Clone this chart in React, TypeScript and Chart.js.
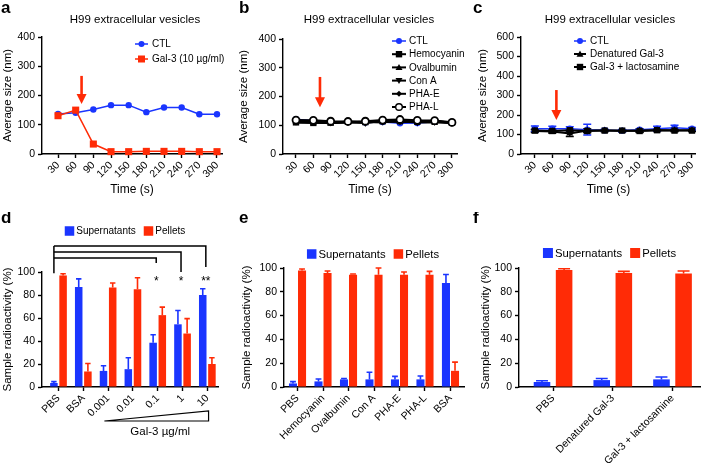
import React, { useEffect, useRef } from 'react';
import { Chart, registerables } from 'chart.js';

Chart.register(...registerables);

const FONT = '"Liberation Sans", Arial, Helvetica, sans-serif';
const BLUE = '#1a35ff';
const RED = '#ff2b06';
const BLACK = '#000000';

// ---------------- Data: vesicle size time courses (a–c)
const timePoints = [30, 60, 90, 120, 150, 180, 210, 240, 270, 300];
const sizeTicks400 = [0, 100, 200, 300, 400];
const sizeTicks600 = [0, 100, 200, 300, 400, 500, 600];

const aCTL = [137, 141, 152, 167, 167, 143, 159, 159, 136, 136];
const aGal3 = [131, 150, 34, 8, 8, 9, 9, 9, 8, 8];

const bCTL = [121, 116, 113, 112, 110, 111, 107, 108, 112, 109];
const bHemocyanin = [110, 108, 109, 112, 111, 114, 114, 112, 112, 109];
const bOvalbumin = [112, 110, 107, 112, 110, 113, 112, 112, 114, 108];
const bConA = [115, 112, 110, 112, 108, 116, 113, 110, 111, 108];
const bPHAE = [110, 112, 108, 110, 112, 110, 116, 112, 113, 110];
const bPHAL = [118, 117, 114, 113, 114, 118, 120, 117, 116, 110];

const cCTL = [130, 130, 130, 125, 122, 120, 125, 130, 135, 130];
const cCTLErr = [14, 12, 10, 28, 5, 6, 5, 12, 12, 6];
const cDenatured = [118, 115, 105, 120, 120, 118, 120, 122, 122, 122];
const cDenaturedErr = [8, 8, 15, 10, 5, 5, 8, 6, 6, 5];
const cLactosamine = [120, 118, 122, 118, 120, 120, 118, 122, 120, 120];
const cLactosamineErr = [6, 6, 8, 8, 5, 5, 8, 5, 5, 5];

// Gal-3 / lectin addition time (red arrows), seconds
const additionTime = { a: 70, b: 71.5, c: 67 };

// ---------------- Data: radioactivity (d–f)
const pctTicks = [0, 20, 40, 60, 80, 100];

const dCategories = ['PBS', 'BSA', '0.001', '0.01', '0.1', '1', '10'];
const dSupernatants = [3.5, 87, 14, 15.5, 38.5, 54.5, 80];
const dSupernatantsErr = [1.2, 7, 4.5, 10, 7, 12, 5.5];
const dPellets = [97, 13.5, 86.5, 85, 62.5, 46.5, 20];
const dPelletsErr = [1.5, 7, 4, 10, 7, 13, 5.5];
const dComparisons = [
  { from: 0, to: 4, label: '*' },
  { from: 0, to: 5, label: '*' },
  { from: 0, to: 6, label: '**' },
];

const eCategories = ['PBS', 'Hemocyanin', 'Ovalbumin', 'Con A', 'PHA-E', 'PHA-L', 'BSA'];
const eSupernatants = [3, 4.7, 6.4, 6.4, 6.4, 6.4, 87.5];
const eSupernatantsErr = [1.5, 2, 0.8, 6, 2.5, 2.8, 7];
const ePellets = [97.8, 95.8, 94.4, 94.4, 94.4, 94.4, 13.6];
const ePelletsErr = [1.3, 1.7, 0.6, 5.6, 2.3, 2.8, 7.3];

const fCategories = ['PBS', 'Denatured Gal-3', 'Gal-3 + lactosamine'];
const fSupernatants = [4.2, 5.8, 6.4];
const fSupernatantsErr = [1.1, 1.4, 2];
const fPellets = [98.3, 95.8, 95.3];
const fPelletsErr = [1.1, 1.4, 2.2];

// ---------------- Layout (canvas coords per panel)
type Geo = { left: number; top: number; w: number; h: number; l: number; r: number; t: number; b: number };
const GEO: Record<string, Geo> = {
  a: { left: 0, top: 0, w: 234, h: 212, l: 42, r: 222, t: 37, b: 154 },
  b: { left: 234, top: 0, w: 234, h: 212, l: 49, r: 223, t: 39, b: 154 },
  c: { left: 468, top: 0, w: 234, h: 212, l: 53, r: 230, t: 37, b: 154 },
  d: { left: 0, top: 212, w: 234, h: 257, l: 42, r: 218, t: 60, b: 175 },
  e: { left: 234, top: 212, w: 234, h: 257, l: 50, r: 230, t: 56, b: 175 },
  f: { left: 468, top: 212, w: 234, h: 257, l: 51, r: 232, t: 56, b: 175 },
};
const XRANGE: Record<string, [number, number]> = {
  a: [2.8, 308.5],
  b: [7.5, 308.7],
  c: [6.2, 306.8],
  d: [-0.665, 6.43],
  e: [-0.53, 6.53],
  f: [-0.57, 2.46],
};

const TICK_SIZE = 10.5;
const AXIS_TITLE_SIZE = 11.5;

function fnt(size: number, weight: any = 'normal') {
  return { family: FONT, size, weight };
}

function makeScales(g: Geo, o: any) {
  return {
    x: {
      type: 'linear',
      min: o.xMin,
      max: o.xMax,
      offset: false,
      afterBuildTicks: (s: any) => {
        s.ticks = o.xTicks.map((v: number) => ({ value: v }));
      },
      afterFit: (s: any) => {
        s.height = g.h - g.b;
      },
      border: { display: true, color: BLACK, width: 1.4 },
      grid: { display: true, offset: false, drawOnChartArea: false, drawTicks: true, tickLength: 4, color: BLACK, tickWidth: 1.4 },
      ticks: {
        autoSkip: false,
        minRotation: 45,
        maxRotation: 45,
        padding: 1,
        color: BLACK,
        font: fnt(TICK_SIZE),
        callback: o.xLabel,
      },
      title: o.xTitle
        ? { display: true, text: o.xTitle, color: BLACK, font: fnt(AXIS_TITLE_SIZE + 0.5), padding: { top: 0, bottom: o.xTitlePad } }
        : { display: false },
    },
    y: {
      type: 'linear',
      min: 0,
      max: o.yMax,
      afterBuildTicks: (s: any) => {
        s.ticks = o.yTicks.map((v: number) => ({ value: v }));
      },
      afterFit: (s: any) => {
        s.width = g.l;
      },
      border: { display: true, color: BLACK, width: 1.4 },
      grid: { display: true, drawOnChartArea: false, drawTicks: true, tickLength: 4, color: BLACK, tickWidth: 1.4 },
      ticks: { padding: 3, color: BLACK, font: fnt(TICK_SIZE) },
      title: {
        display: true,
        text: o.yTitle,
        color: BLACK,
        font: fnt(AXIS_TITLE_SIZE),
        padding: { top: o.yTitlePad, bottom: 0 },
      },
    },
  };
}

function baseOptions(g: Geo, scales: any) {
  return {
    animation: false,
    responsive: false,
    maintainAspectRatio: false,
    devicePixelRatio: 1,
    events: [],
    layout: { padding: { left: 0, top: g.t, right: g.w - g.r, bottom: 0 } },
    plugins: { legend: { display: false }, title: { display: false }, tooltip: { enabled: false } },
    elements: { line: { tension: 0 } },
    scales,
  };
}

// ---------------- Drawing helpers
function drawMarker(ctx: CanvasRenderingContext2D, style: string, x: number, y: number, r: number, fill: string, stroke?: string) {
  ctx.beginPath();
  if (style === 'circle') ctx.arc(x, y, r, 0, Math.PI * 2);
  else if (style === 'rect') ctx.rect(x - r, y - r, 2 * r, 2 * r);
  else if (style === 'triangle') {
    ctx.moveTo(x, y - r);
    ctx.lineTo(x + r, y + r * 0.75);
    ctx.lineTo(x - r, y + r * 0.75);
    ctx.closePath();
  } else if (style === 'triangleDown') {
    ctx.moveTo(x, y + r);
    ctx.lineTo(x + r, y - r * 0.75);
    ctx.lineTo(x - r, y - r * 0.75);
    ctx.closePath();
  } else if (style === 'diamond') {
    ctx.moveTo(x, y - r);
    ctx.lineTo(x + r, y);
    ctx.lineTo(x, y + r);
    ctx.lineTo(x - r, y);
    ctx.closePath();
  }
  ctx.fillStyle = fill;
  ctx.fill();
  if (stroke) {
    ctx.strokeStyle = stroke;
    ctx.lineWidth = 1.4;
    ctx.stroke();
  }
}

function drawLetter(ctx: CanvasRenderingContext2D, letter: string, x: number, y: number) {
  ctx.save();
  ctx.font = `bold 17px ${FONT}`;
  ctx.fillStyle = BLACK;
  ctx.textBaseline = 'alphabetic';
  ctx.textAlign = 'left';
  ctx.fillText(letter, x, y);
  ctx.restore();
}

function drawTitle(ctx: CanvasRenderingContext2D, text: string, cx: number, cy: number) {
  ctx.save();
  ctx.font = `11.5px ${FONT}`;
  ctx.fillStyle = BLACK;
  ctx.textAlign = 'center';
  ctx.textBaseline = 'middle';
  ctx.fillText(text, cx, cy);
  ctx.restore();
}

function drawLineLegend(ctx: CanvasRenderingContext2D, items: any[], x0: number, len: number, textX: number, y0: number, dy: number) {
  ctx.save();
  ctx.font = `10px ${FONT}`;
  ctx.textBaseline = 'middle';
  ctx.textAlign = 'left';
  items.forEach((it, i) => {
    const y = y0 + i * dy;
    ctx.strokeStyle = it.color;
    ctx.lineWidth = it.lineWidth || 1.5;
    ctx.beginPath();
    ctx.moveTo(x0, y);
    ctx.lineTo(x0 + len, y);
    ctx.stroke();
    drawMarker(ctx, it.style, x0 + len / 2, y, it.r, it.fill || it.color, it.stroke);
    ctx.fillStyle = BLACK;
    ctx.fillText(it.label, textX, y + 0.5);
  });
  ctx.restore();
}

function drawBoxLegend(ctx: CanvasRenderingContext2D, items: any[], cx: number, cy: number, size: number, box: number) {
  ctx.save();
  ctx.font = `${size}px ${FONT}`;
  ctx.textBaseline = 'middle';
  ctx.textAlign = 'left';
  const widths = items.map((it) => ctx.measureText(it.label).width);
  const total = items.reduce((s, _it, i) => s + box + 2 + widths[i], 0) + 8 * (items.length - 1);
  let x = cx - total / 2;
  items.forEach((it, i) => {
    ctx.fillStyle = it.color;
    ctx.fillRect(x, cy - box / 2, box, box);
    x += box + 2;
    ctx.fillStyle = BLACK;
    ctx.fillText(it.label, x, cy + 0.5);
    x += widths[i] + 8;
  });
  ctx.restore();
}

function drawArrow(chart: any, xv: number, fromV: number, toV: number) {
  const { ctx, scales } = chart;
  const px = scales.x.getPixelForValue(xv);
  const y1 = scales.y.getPixelForValue(fromV);
  const y2 = scales.y.getPixelForValue(toV);
  ctx.save();
  ctx.strokeStyle = RED;
  ctx.fillStyle = RED;
  ctx.lineWidth = 2.6;
  ctx.beginPath();
  ctx.moveTo(px, y1);
  ctx.lineTo(px, y2 - 8);
  ctx.stroke();
  ctx.beginPath();
  ctx.moveTo(px - 5, y2 - 10);
  ctx.lineTo(px + 5, y2 - 10);
  ctx.lineTo(px, y2);
  ctx.closePath();
  ctx.fill();
  ctx.restore();
}

function drawLineErrors(chart: any) {
  const { ctx, scales } = chart;
  chart.data.datasets.forEach((ds: any, di: number) => {
    if (!ds.errors) return;
    const meta = chart.getDatasetMeta(di);
    ctx.save();
    ctx.strokeStyle = ds.borderColor;
    ctx.lineWidth = 1.5;
    meta.data.forEach((pt: any, i: number) => {
      const v = ds.data[i].y;
      const e = ds.errors[i];
      const top = scales.y.getPixelForValue(v + e);
      const bot = scales.y.getPixelForValue(v - e);
      ctx.beginPath();
      ctx.moveTo(pt.x, top);
      ctx.lineTo(pt.x, bot);
      ctx.moveTo(pt.x - 4, top);
      ctx.lineTo(pt.x + 4, top);
      ctx.moveTo(pt.x - 4, bot);
      ctx.lineTo(pt.x + 4, bot);
      ctx.stroke();
    });
    ctx.restore();
  });
}

function drawBarErrors(chart: any) {
  const { ctx, scales } = chart;
  chart.data.datasets.forEach((ds: any, di: number) => {
    if (!ds.errors) return;
    const meta = chart.getDatasetMeta(di);
    ctx.save();
    ctx.strokeStyle = ds.backgroundColor;
    ctx.lineWidth = 1.6;
    meta.data.forEach((bar: any, i: number) => {
      const v = ds.data[i].y;
      const e = ds.errors[i];
      const top = scales.y.getPixelForValue(v + e);
      const half = bar.width * 0.36;
      ctx.beginPath();
      ctx.moveTo(bar.x, bar.y);
      ctx.lineTo(bar.x, top);
      ctx.moveTo(bar.x - half, top);
      ctx.lineTo(bar.x + half, top);
      ctx.stroke();
    });
    ctx.restore();
  });
}

const TITLE_TEXT = 'H99 extracellular vesicles';
const SIZE_TITLE = 'Average size (nm)';
const PCT_TITLE = 'Sample radioactivity (%)';
const boxLegendItems = [
  { label: 'Supernatants', color: BLUE },
  { label: 'Pellets', color: RED },
];

function xy(xs: number[], ys: number[]) {
  return xs.map((x, i) => ({ x, y: ys[i] }));
}
function iy(ys: number[]) {
  return ys.map((y, i) => ({ x: i, y }));
}

// ---------------- Panel builders
function buildA() {
  const g = GEO.a;
  const scales = makeScales(g, {
    xMin: XRANGE.a[0], xMax: XRANGE.a[1], xTicks: timePoints, xLabel: (v: any) => String(v),
    xTitle: 'Time (s)', xTitlePad: 15, yMax: 400, yTicks: sizeTicks400, yTitle: SIZE_TITLE, yTitlePad: 0.5,
  });
  return {
    type: 'line',
    data: {
      datasets: [
        { label: 'Gal-3 (10 µg/ml)', data: xy(timePoints, aGal3), borderColor: RED, backgroundColor: RED, borderWidth: 1.5, pointStyle: 'rect', pointRadius: 5, pointBorderWidth: 0, clip: false },
        { label: 'CTL', data: xy(timePoints, aCTL), borderColor: BLUE, backgroundColor: BLUE, borderWidth: 1.5, pointStyle: 'circle', pointRadius: 3.2, pointBorderWidth: 0, clip: false },
      ],
    },
    options: baseOptions(g, scales),
    plugins: [
      {
        id: 'decoA',
        afterDraw(chart: any) {
          const ctx = chart.ctx;
          drawLetter(ctx, 'a', 1, 13);
          drawTitle(ctx, TITLE_TEXT, 135, 20);
          drawLineLegend(ctx, [
            { label: 'CTL', color: BLUE, style: 'circle', r: 3 },
            { label: 'Gal-3 (10 µg/ml)', color: RED, style: 'rect', r: 3.5 },
          ], 135, 13, 152, 44, 15);
          drawArrow(chart, additionTime.a, 267, 171);
        },
      },
    ],
  };
}

function buildB() {
  const g = GEO.b;
  const scales = makeScales(g, {
    xMin: XRANGE.b[0], xMax: XRANGE.b[1], xTicks: timePoints, xLabel: (v: any) => String(v),
    xTitle: 'Time (s)', xTitlePad: 15, yMax: 400, yTicks: sizeTicks400, yTitle: SIZE_TITLE, yTitlePad: 3,
  });
  const black = (label: string, vals: number[], style: string, r: number, extra: any = {}) => ({
    label, data: xy(timePoints, vals), borderColor: BLACK, backgroundColor: BLACK, borderWidth: 2.2,
    pointStyle: style, pointRadius: r, pointBorderWidth: 0, clip: false, ...extra,
  });
  return {
    type: 'line',
    data: {
      datasets: [
        black('PHA-L', bPHAL, 'circle', 3.5, { pointBackgroundColor: '#ffffff', pointBorderColor: BLACK, pointBorderWidth: 1.8 }),
        black('PHA-E', bPHAE, 'rectRot', 3),
        black('Con A', bConA, 'triangle', 4, { pointRotation: 180 }),
        black('Ovalbumin', bOvalbumin, 'triangle', 4),
        black('Hemocyanin', bHemocyanin, 'rect', 4.5),
        { label: 'CTL', data: xy(timePoints, bCTL), borderColor: BLUE, backgroundColor: BLUE, borderWidth: 1.5, pointStyle: 'circle', pointRadius: 3.2, pointBorderWidth: 0, clip: false, order: 5 },
      ],
    },
    options: baseOptions(g, scales),
    plugins: [
      {
        id: 'decoB',
        afterDraw(chart: any) {
          const ctx = chart.ctx;
          drawLetter(ctx, 'b', 5, 13);
          drawTitle(ctx, TITLE_TEXT, 135, 20);
          drawLineLegend(ctx, [
            { label: 'CTL', color: BLUE, style: 'circle', r: 3 },
            { label: 'Hemocyanin', color: BLACK, style: 'rect', r: 3.2, lineWidth: 2 },
            { label: 'Ovalbumin', color: BLACK, style: 'triangle', r: 3.5, lineWidth: 2 },
            { label: 'Con A', color: BLACK, style: 'triangleDown', r: 3.5, lineWidth: 2 },
            { label: 'PHA-E', color: BLACK, style: 'diamond', r: 3, lineWidth: 2 },
            { label: 'PHA-L', color: BLACK, style: 'circle', r: 3.3, fill: '#ffffff', stroke: BLACK, lineWidth: 2 },
          ], 158, 14, 175, 41, 13.2);
          drawArrow(chart, additionTime.b, 268, 163);
        },
      },
    ],
  };
}

function buildC() {
  const g = GEO.c;
  const scales = makeScales(g, {
    xMin: XRANGE.c[0], xMax: XRANGE.c[1], xTicks: timePoints, xLabel: (v: any) => String(v),
    xTitle: 'Time (s)', xTitlePad: 15, yMax: 600, yTicks: sizeTicks600, yTitle: SIZE_TITLE, yTitlePad: 8,
  });
  return {
    type: 'line',
    data: {
      datasets: [
        { label: 'Gal-3 + lactosamine', data: xy(timePoints, cLactosamine), errors: cLactosamineErr, borderColor: BLACK, backgroundColor: BLACK, borderWidth: 2, pointStyle: 'rect', pointRadius: 4.5, pointBorderWidth: 0, clip: false },
        { label: 'Denatured Gal-3', data: xy(timePoints, cDenatured), errors: cDenaturedErr, borderColor: BLACK, backgroundColor: BLACK, borderWidth: 2, pointStyle: 'triangle', pointRadius: 4, pointBorderWidth: 0, clip: false },
        { label: 'CTL', data: xy(timePoints, cCTL), errors: cCTLErr, borderColor: BLUE, backgroundColor: BLUE, borderWidth: 1.5, pointStyle: 'circle', pointRadius: 3.2, pointBorderWidth: 0, clip: false, order: 5 },
      ],
    },
    options: baseOptions(g, scales),
    plugins: [
      {
        id: 'decoC',
        beforeDatasetsDraw(chart: any) {
          drawLineErrors(chart);
        },
        afterDraw(chart: any) {
          const ctx = chart.ctx;
          drawLetter(ctx, 'c', 5, 13);
          drawTitle(ctx, TITLE_TEXT, 142, 20);
          drawLineLegend(ctx, [
            { label: 'CTL', color: BLUE, style: 'circle', r: 3 },
            { label: 'Denatured Gal-3', color: BLACK, style: 'triangle', r: 3.5, lineWidth: 2 },
            { label: 'Gal-3 + lactosamine', color: BLACK, style: 'rect', r: 3.2, lineWidth: 2 },
          ], 106, 12, 122, 41, 13);
          drawArrow(chart, additionTime.c, 328, 174);
        },
      },
    ],
  };
}

function barDatasets(sup: number[], supErr: number[], pel: number[], pelErr: number[], catPct: number, barPct: number) {
  return [
    { label: 'Supernatants', data: iy(sup), errors: supErr, backgroundColor: BLUE, categoryPercentage: catPct, barPercentage: barPct },
    { label: 'Pellets', data: iy(pel), errors: pelErr, backgroundColor: RED, categoryPercentage: catPct, barPercentage: barPct },
  ];
}

const D_LAYOUT = {
  bracketLevels: [112.2, 117.4, 122.6],
  bracketDrops: [107.8, 100, 104.3],
  bracketBase: 99,
  starLevel: 94.8,
  triangleFrom: 1.85,
  triangleTo: 6.05,
};

function buildD() {
  const g = GEO.d;
  const scales = makeScales(g, {
    xMin: XRANGE.d[0], xMax: XRANGE.d[1], xTicks: dCategories.map((_, i) => i), xLabel: (v: any) => dCategories[v] ?? '',
    yMax: 100, yTicks: pctTicks, yTitle: PCT_TITLE, yTitlePad: 1,
  });
  return {
    type: 'bar',
    data: { datasets: barDatasets(dSupernatants, dSupernatantsErr, dPellets, dPelletsErr, 0.74, 0.82) },
    options: baseOptions(g, scales),
    plugins: [
      {
        id: 'decoD',
        afterDatasetsDraw(chart: any) {
          drawBarErrors(chart);
        },
        afterDraw(chart: any) {
          const { ctx, scales: s } = chart;
          drawLetter(ctx, 'd', 1, 11);
          drawBoxLegend(ctx, boxLegendItems, 125, 19, 10, 9.5);
          // significance brackets
          const x0 = chart.getDatasetMeta(0).data[0].x;
          ctx.save();
          ctx.strokeStyle = BLACK;
          ctx.fillStyle = BLACK;
          ctx.lineWidth = 1.5;
          ctx.beginPath();
          ctx.moveTo(x0, s.y.getPixelForValue(D_LAYOUT.bracketBase));
          ctx.lineTo(x0, s.y.getPixelForValue(Math.max(...D_LAYOUT.bracketLevels)));
          ctx.stroke();
          ctx.font = `12px ${FONT}`;
          ctx.textAlign = 'center';
          ctx.textBaseline = 'alphabetic';
          dComparisons.forEach((c, i) => {
            const xe = s.x.getPixelForValue(c.to) - 1.5;
            const yl = s.y.getPixelForValue(D_LAYOUT.bracketLevels[i]);
            ctx.beginPath();
            ctx.moveTo(x0, yl);
            ctx.lineTo(xe, yl);
            ctx.lineTo(xe, s.y.getPixelForValue(D_LAYOUT.bracketDrops[i]));
            ctx.stroke();
            ctx.fillText(c.label, xe, s.y.getPixelForValue(D_LAYOUT.starLevel) + 7);
          });
          // concentration wedge
          const xa = s.x.getPixelForValue(D_LAYOUT.triangleFrom);
          const xb = s.x.getPixelForValue(D_LAYOUT.triangleTo);
          const yb = g.b + 34;
          const yt = g.b + 24;
          ctx.lineWidth = 1.2;
          ctx.beginPath();
          ctx.moveTo(xa, yb);
          ctx.lineTo(xb, yt);
          ctx.lineTo(xb, yb);
          ctx.closePath();
          ctx.stroke();
          ctx.font = `${AXIS_TITLE_SIZE}px ${FONT}`;
          ctx.textBaseline = 'middle';
          ctx.fillText('Gal-3 µg/ml', s.x.getPixelForValue(4.1), g.b + 45);
          ctx.restore();
        },
      },
    ],
  };
}

function buildE() {
  const g = GEO.e;
  const scales = makeScales(g, {
    xMin: XRANGE.e[0], xMax: XRANGE.e[1], xTicks: eCategories.map((_, i) => i), xLabel: (v: any) => eCategories[v] ?? '',
    yMax: 100, yTicks: pctTicks, yTitle: PCT_TITLE, yTitlePad: 6,
  });
  return {
    type: 'bar',
    data: { datasets: barDatasets(eSupernatants, eSupernatantsErr, ePellets, ePelletsErr, 0.71, 0.89) },
    options: baseOptions(g, scales),
    plugins: [
      {
        id: 'decoE',
        afterDatasetsDraw(chart: any) {
          drawBarErrors(chart);
        },
        afterDraw(chart: any) {
          const ctx = chart.ctx;
          drawLetter(ctx, 'e', 5, 11);
          drawBoxLegend(ctx, boxLegendItems, 139, 42, 11.3, 9.5);
        },
      },
    ],
  };
}

function buildF() {
  const g = GEO.f;
  const scales = makeScales(g, {
    xMin: XRANGE.f[0], xMax: XRANGE.f[1], xTicks: fCategories.map((_, i) => i), xLabel: (v: any) => fCategories[v] ?? '',
    yMax: 100, yTicks: pctTicks, yTitle: PCT_TITLE, yTitlePad: 11,
  });
  return {
    type: 'bar',
    data: { datasets: barDatasets(fSupernatants, fSupernatantsErr, fPellets, fPelletsErr, 0.74, 0.75) },
    options: baseOptions(g, scales),
    plugins: [
      {
        id: 'decoF',
        afterDatasetsDraw(chart: any) {
          drawBarErrors(chart);
        },
        afterDraw(chart: any) {
          const ctx = chart.ctx;
          drawLetter(ctx, 'f', 5, 11);
          drawBoxLegend(ctx, boxLegendItems, 141.5, 41, 11.3, 10);
        },
      },
    ],
  };
}

const PANELS = [
  { id: 'a', build: buildA },
  { id: 'b', build: buildB },
  { id: 'c', build: buildC },
  { id: 'd', build: buildD },
  { id: 'e', build: buildE },
  { id: 'f', build: buildF },
];

function Panel({ id, build }: { id: string; build: () => any }) {
  const ref = useRef<HTMLCanvasElement | null>(null);
  useEffect(() => {
    if (!ref.current) return;
    const chart = new Chart(ref.current, build() as any);
    return () => chart.destroy();
  }, [id, build]);
  const g = GEO[id];
  return (
    <canvas
      ref={ref}
      width={g.w}
      height={g.h}
      style={{ position: 'absolute', left: g.left, top: g.top, width: g.w, height: g.h }}
    />
  );
}

export default function App() {
  return (
    <div style={{ position: 'fixed', left: 0, top: 0, width: 702, height: 469, background: '#ffffff', overflow: 'hidden' }}>
      {PANELS.map((p) => (
        <Panel key={p.id} id={p.id} build={p.build} />
      ))}
    </div>
  );
}
